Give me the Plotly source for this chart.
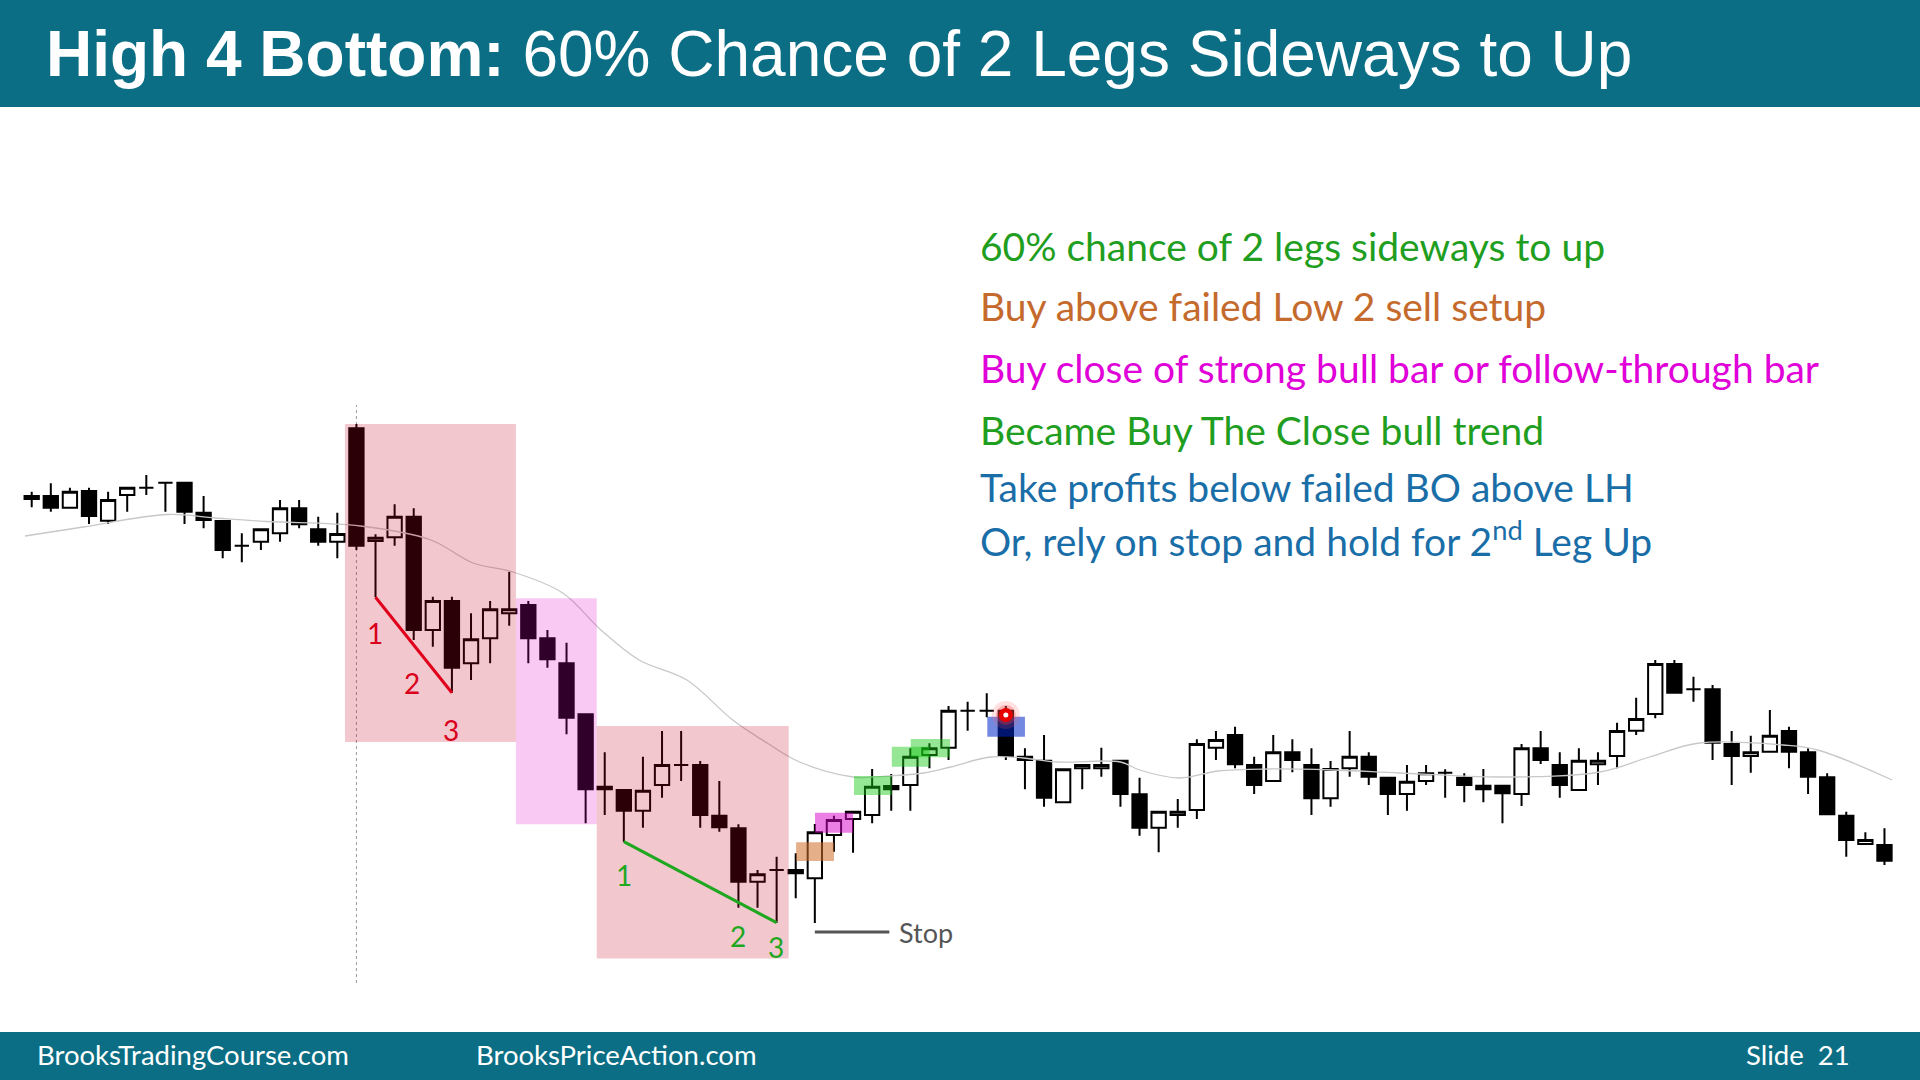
import plotly.graph_objects as go

# ---------------- data (price units) ----------------
bar_index = list(range(98))
open_ = [501, 504, 492.3, 509, 479.3, 505, 512.3, 517.3, 517.3, 487.3,
         479, 454.3, 458.3, 466.7, 491.7, 470.7, 458.3, 571.7, 459, 462.7,
         483.3, 370, 399, 336.7, 361.7, 386.7, 395, 361.7, 336.7, 285.7,
         210.7, 210, 189.3, 215, 235, 235, 184.3, 171.7, 118.3, 130,
         130, 121.7, 165, 181, 185, 214, 215, 245, 252.3, 289.3,
         289.3, 289.3, 243.3, 239.3, 197.7, 231.7, 231.7, 239.3, 205.7, 172.3,
         185, 190, 252.3, 265, 235, 219, 247.7, 235, 201.7, 231.7,
         243.3, 222.3, 206, 219, 227.3, 222.3, 214.3, 214.3, 206, 251.7,
         235, 210, 235.7, 244, 269.3, 286, 336, 310.7, 310.7, 256,
         244, 248.3, 269, 247.7, 222.7, 184.3, 156, 155]
high = [508.3, 516.7, 512.3, 512.3, 508.3, 512.3, 525, 517.3, 517.3, 504,
        479, 466.7, 470.7, 500, 500, 483.3, 487.3, 576, 465.7, 495.7,
        491.7, 403.3, 403.3, 386.7, 399, 428.3, 399, 370, 357.3, 285.7,
        247.7, 210, 243.3, 269, 269, 239, 219, 175.7, 130, 143.3,
        146.7, 176, 184.3, 188.3, 231, 226, 251.7, 256.7, 294, 298.3,
        306.7, 294, 251.7, 265, 230.7, 235, 252.3, 239.3, 222.3, 188.3,
        201, 260.7, 269, 273.3, 243.3, 265, 260.7, 251.7, 239, 269,
        247.7, 222.3, 235, 235, 230.7, 226.7, 231, 214.3, 256, 269,
        247.7, 251.7, 247.7, 277.3, 302.3, 340, 340, 323.3, 315, 269,
        264.3, 290, 273.3, 251.7, 226.7, 188.3, 167.7, 171.7]
low = [492.7, 488.3, 492.3, 476, 476, 488.3, 505, 488.3, 476, 471.7,
       441.7, 437.7, 450, 458.3, 471.7, 454.3, 441.7, 450, 402.7, 454.3,
       360, 353.3, 307.3, 320, 336.7, 374.3, 336.7, 332.3, 265.7, 176.7,
       185, 158.3, 172.3, 202.3, 219, 172.3, 168.3, 92.3, 92.3, 77.3,
       101.7, 77, 148.3, 147.3, 176.7, 189.3, 189.3, 231.7, 240, 269.3,
       282.7, 240, 210.7, 193.3, 197.7, 210.7, 223.3, 193.3, 164.3, 147.7,
       172.3, 181, 240, 231.7, 206, 219, 227.7, 185, 193.3, 223.3,
       215, 185, 189.3, 215, 202.3, 197.7, 197.7, 176.7, 194, 236,
       202.3, 210, 215, 231.7, 265, 281.7, 307.3, 298.3, 240, 215,
       227.3, 248.3, 231.7, 206, 185.7, 143.3, 156, 135]
close = [504, 492.3, 508.3, 484, 500, 512.3, 512.3, 517.3, 488.3, 480,
         450, 454.3, 470.7, 491.7, 475.7, 458.3, 466, 454.3, 462.3, 483.3,
         370, 399, 332.3, 360.7, 390.7, 390.7, 361.7, 340.7, 282.3, 210.7,
         213.3, 189.3, 209.3, 235, 235, 185, 172.7, 118.3, 125.7, 130,
         126.7, 167.7, 180, 188.3, 213.3, 210.7, 243.3, 251.7, 289.3, 289.3,
         289.3, 244, 240, 202.3, 230.7, 235, 235, 206, 172.3, 188.3,
         188.3, 256, 260, 235.7, 215, 247.7, 240, 201.7, 231, 243.3,
         223.3, 206, 218.3, 226.7, 227.3, 215, 210.7, 206.7, 251.7, 240,
         215, 239.3, 239.3, 269, 281, 336, 307.3, 310.7, 257.3, 244,
         247.7, 264.3, 248.3, 223.3, 185.7, 160, 160, 139.3]

# moving average (bar index, price)
ma_index = [-0.35, 2.7, 7.1, 9.6, 12.3, 17.2, 20.9, 23.1, 25.2, 27.8, 29.8,
            31.8, 34.3, 36.7, 38.5, 40.2, 43.0, 44.9, 46.7, 48.1, 50.2,
            51.9, 53.7, 57.0, 58.0, 60.1, 62.1, 64.7, 68.1, 71.6, 76.9,
            82.1, 84.7, 87.3, 91.7, 93.5, 97.4]
ma_value = [464, 473, 485.5, 482, 478.5, 474, 460, 437, 428, 407, 370,
            340, 320, 280, 257, 238, 223, 224, 227, 233, 243,
            242, 238, 238, 230, 222, 229, 231, 230, 227, 223,
            228, 243, 257, 255, 250, 220]

title_bold = "High 4 Bottom:"
title_rest = " 60% Chance of 2 Legs Sideways to Up"
note_lines = ["60% chance of 2 legs sideways to up",
              "Buy above failed Low 2 sell setup",
              "Buy close of strong bull bar or follow-through bar",
              "Became Buy The Close bull trend",
              "Take profits below failed BO above LH",
              "Or, rely on stop and hold for 2<sup>nd</sup> Leg Up"]
note_colors = ["#1f9e1f", "#c56a2d", "#e000d8", "#1f9e1f", "#1a6ea8", "#1a6ea8"]
note_y_px = [246, 306, 368, 430, 487, 539]
footer_left = ["BrooksTradingCourse.com", "BrooksPriceAction.com"]
footer_right = "Slide  21"

# ---------------- figure ----------------
W, H = 1920, 1080
TEAL = "#0b6e85"


def px(x):
    return x / W


def py(y):
    return 1 - y / H


fig = go.Figure()

fig.add_trace(go.Scatter(x=ma_index, y=ma_value, mode="lines",
                         line=dict(color="#c8c8c8", width=1.3, shape="spline"),
                         hoverinfo="skip"))

fig.add_trace(go.Candlestick(
    x=bar_index, open=open_, high=high, low=low, close=close,
    increasing=dict(line=dict(color="black", width=2), fillcolor="white"),
    decreasing=dict(line=dict(color="black", width=2), fillcolor="black"),
    whiskerwidth=0, hoverinfo="skip"))

shapes = []
# banner + footer
shapes.append(dict(type="rect", xref="paper", yref="paper", x0=0, x1=1,
                   y0=py(107), y1=1, fillcolor=TEAL, line_width=0, layer="above"))
shapes.append(dict(type="rect", xref="paper", yref="paper", x0=0, x1=1,
                   y0=0, y1=py(1032), fillcolor=TEAL, line_width=0, layer="above"))
# vertical dotted line at the big bear bar
shapes.append(dict(type="line", x0=17, x1=17, y0=17, y1=595,
                   line=dict(color="#9a9a9a", width=1, dash="dot"), layer="below"))
# translucent zones
shapes.append(dict(type="rect", x0=16.4, x1=25.35, y0=258, y1=576,
                   fillcolor="rgba(200,0,30,0.22)", line_width=0, layer="above"))
shapes.append(dict(type="rect", x0=25.35, x1=29.58, y0=175.7, y1=401.7,
                   fillcolor="rgba(225,0,200,0.21)", line_width=0, layer="above"))
shapes.append(dict(type="rect", x0=29.58, x1=39.63, y0=41.5, y1=274,
                   fillcolor="rgba(200,0,30,0.22)", line_width=0, layer="above"))
# signal boxes
shapes.append(dict(type="rect", x0=40.02, x1=42.0, y0=139, y1=157.7,
                   fillcolor="rgba(205,110,40,0.55)", line_width=0, layer="above"))
shapes.append(dict(type="rect", x0=41.01, x1=43.0, y0=167.3, y1=187.3,
                   fillcolor="rgba(215,0,200,0.5)", line_width=0, layer="above"))
for gx0, gx1, gy0, gy1 in [(43.05, 45.03, 205, 224), (45.03, 47.0, 233.3, 253.3),
                           (46.02, 48.08, 242.7, 261)]:
    shapes.append(dict(type="rect", x0=gx0, x1=gx1, y0=gy0, y1=gy1,
                       fillcolor="rgba(20,200,20,0.45)", line_width=0, layer="above"))
shapes.append(dict(type="rect", x0=50.03, x1=52.0, y0=263.3, y1=283.3,
                   fillcolor="rgba(0,40,200,0.55)", line_width=0, layer="above"))
# wedge lines
shapes.append(dict(type="line", x0=18, y0=low[18], x1=22, y1=low[22],
                   line=dict(color="#e0001b", width=3), layer="above"))
shapes.append(dict(type="line", x0=31, y0=low[31], x1=39, y1=low[39],
                   line=dict(color="#1fa81f", width=3), layer="above"))
# stop line
shapes.append(dict(type="line", x0=41, x1=44.9, y0=68, y1=68,
                   line=dict(color="#555555", width=3), layer="above"))
# red circle marker with glow
for r, col in [(14, "rgba(255,90,90,0.18)"), (10, "rgba(255,60,60,0.3)"),
               (7, "#e60000"), (2.5, "white")]:
    shapes.append(dict(type="circle", xsizemode="pixel", ysizemode="pixel",
                       xanchor=51, yanchor=285, x0=-r, x1=r, y0=-r, y1=r,
                       fillcolor=col, line_width=0, layer="above"))

ann = []
ann.append(dict(xref="paper", yref="paper", x=px(44), y=py(54), xanchor="left",
                yanchor="middle", showarrow=False,
                text="<b>" + title_bold + "</b>" + title_rest,
                font=dict(family="Liberation Sans, Arial", size=64, color="white")))
for t, c, yy in zip(note_lines, note_colors, note_y_px):
    ann.append(dict(xref="paper", yref="paper", x=px(978), y=py(yy), xanchor="left",
                    yanchor="middle", showarrow=False, text=t,
                    font=dict(family="Lato", size=39, color=c)))
ann.append(dict(xref="paper", yref="paper", x=px(35), y=py(1054), xanchor="left",
                yanchor="middle", showarrow=False, text=footer_left[0],
                font=dict(family="Lato", size=27.5, color="white")))
ann.append(dict(xref="paper", yref="paper", x=px(474), y=py(1054), xanchor="left",
                yanchor="middle", showarrow=False, text=footer_left[1],
                font=dict(family="Lato", size=27.5, color="white")))
ann.append(dict(xref="paper", yref="paper", x=px(1852), y=py(1054), xanchor="right",
                yanchor="middle", showarrow=False, text=footer_right,
                font=dict(family="Lato", size=27.5, color="white")))
# wedge numbers
for t, xx, yy in [("1", 17.97, 367), ("2", 19.93, 316.7), ("3", 21.94, 270)]:
    ann.append(dict(x=xx, y=yy, text=t, showarrow=False,
                    font=dict(family="Lato", size=28, color="#d9001b")))
for t, xx, yy in [("1", 31.0, 125), ("2", 37.0, 64), ("3", 38.97, 53.3)]:
    ann.append(dict(x=xx, y=yy, text=t, showarrow=False,
                    font=dict(family="Lato", size=28, color="#1fa81f")))
ann.append(dict(x=45.3, y=68, text="Stop", showarrow=False, xanchor="left",
                font=dict(family="Lato", size=27, color="#555555")))

fig.update_layout(
    width=W, height=H, margin=dict(l=0, r=0, t=0, b=0),
    paper_bgcolor="white", plot_bgcolor="white", showlegend=False,
    boxgap=0.25, boxgroupgap=0,
    xaxis=dict(range=[-1.66, 98.86], visible=False, rangeslider=dict(visible=False),
               fixedrange=True),
    yaxis=dict(range=[-80, 1000], visible=False, fixedrange=True),
    shapes=shapes, annotations=ann, hovermode=False)

fig.write_html("out.html", config={"displayModeBar": False},
               post_script="document.body.style.margin='0';"
                           "document.body.style.overflow='hidden';")
